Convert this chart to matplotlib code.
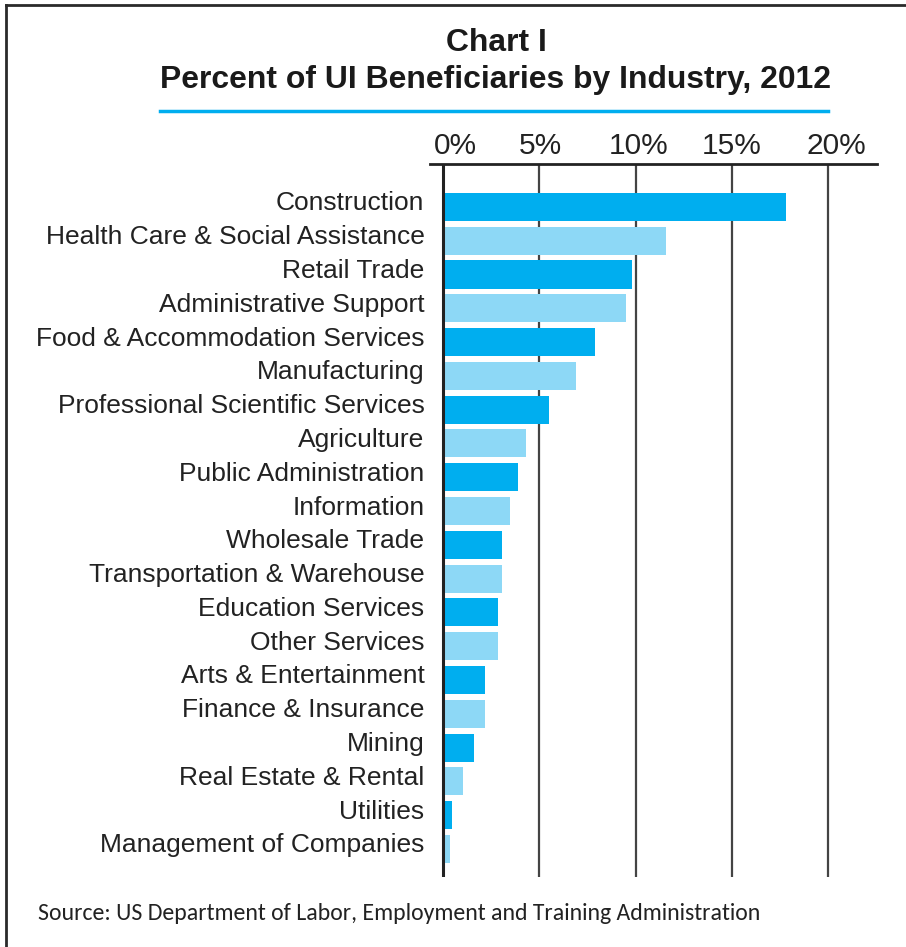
import matplotlib.pyplot as plt
from matplotlib import font_manager
from matplotlib.lines import Line2D
from matplotlib.transforms import ScaledTranslation

industries = [
    "Construction",
    "Health Care & Social Assistance",
    "Retail Trade",
    "Administrative Support",
    "Food & Accommodation Services",
    "Manufacturing",
    "Professional Scientific Services",
    "Agriculture",
    "Public Administration",
    "Information",
    "Wholesale Trade",
    "Transportation & Warehouse",
    "Education Services",
    "Other Services",
    "Arts & Entertainment",
    "Finance & Insurance",
    "Mining",
    "Real Estate & Rental",
    "Utilities",
    "Management of Companies",
]
percent = [17.8, 11.6, 9.8, 9.5, 7.9, 6.9, 5.5, 4.3, 3.9, 3.5,
           3.05, 3.05, 2.85, 2.85, 2.2, 2.2, 1.6, 1.05, 0.45, 0.35]
ticks = [0, 5, 10, 15, 20]
tick_labels = ["0%", "5%", "10%", "15%", "20%"]

DARK = "#00AEEF"
LIGHT = "#8DD8F6"
W, H = 906, 947

installed = {f.name for f in font_manager.fontManager.ttflist}
title_family = ["Liberation Sans Narrow" if "Liberation Sans Narrow" in installed
                else "Liberation Sans", "DejaVu Sans"]
source_family = "Carlito" if "Carlito" in installed else "Open Sans"

fig = plt.figure(figsize=(W / 100, H / 100), dpi=100)
fig.patch.set_facecolor("white")
renderer = fig.canvas.get_renderer()


def fit_width(txt, width_px):
    # scale the font so the text spans the given width in pixels
    w = txt.get_window_extent(renderer).width
    txt.set_fontsize(txt.get_fontsize() * width_px / w)


# outer frame (left and top edges visible)
fig.add_artist(Line2D([6 / W, 6 / W], [0, 1 - 5 / H], color="#2a2a2a", lw=2,
                      transform=fig.transFigure))
fig.add_artist(Line2D([6 / W, 1], [1 - 5 / H, 1 - 5 / H], color="#2a2a2a", lw=2,
                      transform=fig.transFigure))

t1 = fig.text(496 / W, 1 - 43 / H, "Chart I", ha="center", va="center",
              fontsize=20, fontweight="bold", family=title_family, color="#1a1a1a")
t2 = fig.text(496 / W, 1 - 80 / H, "Percent of UI Beneficiaries by Industry, 2012",
              ha="center", va="center", fontsize=20, fontweight="bold",
              family=title_family, color="#1a1a1a")
fit_width(t2, 672)
t1.set_fontsize(t2.get_fontsize())
fig.add_artist(Line2D([160 / W, 828 / W], [1 - 111 / H, 1 - 111 / H],
                      color=DARK, lw=2.5, transform=fig.transFigure))

ax = fig.add_axes([430 / W, 1 - 877 / H, (877 - 430) / W, (877 - 164) / H])
colors = [DARK if i % 2 == 0 else LIGHT for i in range(len(industries))]
ax.barh(range(len(industries)), percent, height=0.83, color=colors, zorder=3)

ax.set_xlim(-0.68, 22.55)
ax.set_ylim(len(industries) - 1 + 0.83, -1.27)
for t in ticks:
    ax.axvline(t, color="#222222" if t == 0 else "#444444",
               lw=2.2 if t == 0 else 1.6, zorder=4 if t == 0 else 1)

ax.xaxis.tick_top()
ax.set_xticks(ticks)
ax.set_xticklabels(tick_labels, fontsize=21.5, family="Liberation Sans", color="#222222")
ax.tick_params(axis="x", length=0, pad=3)
ax.set_yticks(range(len(industries)))
ax.set_yticklabels(industries, fontsize=19, family="Liberation Sans", color="#222222")
ax.tick_params(axis="y", length=0, pad=4)

# labels sit slightly above the bar centres; percent labels nudged right
for lab in ax.get_yticklabels():
    lab.set_transform(lab.get_transform() + ScaledTranslation(0, 0.06, fig.dpi_scale_trans))
for lab, dx in zip(ax.get_xticklabels(), [0.12, 0.01, 0.03, 0.0, 0.08]):
    lab.set_transform(lab.get_transform() + ScaledTranslation(dx, 0, fig.dpi_scale_trans))

for side in ["left", "right", "bottom"]:
    ax.spines[side].set_visible(False)
ax.spines["top"].set_linewidth(2)
ax.spines["top"].set_color("#222222")

src = fig.text(38 / W, 1 - 913 / H,
               "Source: US Department of Labor, Employment and Training Administration",
               ha="left", va="center", fontsize=16, family=source_family, color="#222222")
fit_width(src, 722)

fig.savefig("out.png", dpi=100)
